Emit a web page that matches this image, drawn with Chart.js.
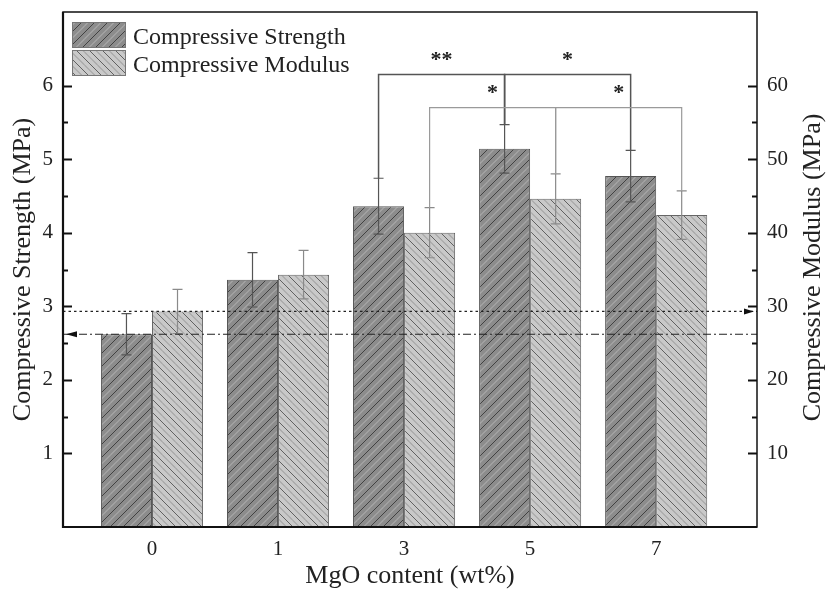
<!DOCTYPE html>
<html>
<head>
<meta charset="utf-8">
<script src="https://cdn.jsdelivr.net/npm/chart.js@4.4.1/dist/chart.umd.min.js"></script>
<style>
  html, body { margin: 0; padding: 0; background: #fff; }
</style>
</head>
<body>
<canvas id="barChart" width="826" height="590"></canvas>
<script>
// data
var categories = ["0", "1", "3", "5", "7"];
var strength = [2.62, 3.36, 4.36, 5.14, 4.77];
var strengthErr = [0.28, 0.37, 0.38, 0.33, 0.35];
var modulus = [29.3, 34.3, 40.0, 44.6, 42.4];
var modulusErr = [3.0, 3.3, 3.4, 3.4, 3.3];
var strengthTicks = [1, 2, 3, 4, 5, 6];
var strengthMinor = [1.5, 2.5, 3.5, 4.5, 5.5];
var modulusTicks = [10, 20, 30, 40, 50, 60];
var modulusMinor = [15, 25, 35, 45, 55];
// significance brackets: [from index, to index, mark]
var strengthSig = [[2, 3, "**"], [3, 4, "*"]];
var modulusSig = [[2, 3, "*"], [3, 4, "*"]];
var strengthSigLevel = 6.15;
var modulusSigLevel = 57;

var serif = "'Liberation Serif', 'DejaVu Serif', serif";
var textColor = "#222";
var rightTitle = "Compressive Modulus (MPa)";

// hatched fills
function hatch(base, dark, light, dir) {
    var s = 13;
    var c = document.createElement("canvas");
    c.width = s; c.height = s;
    var g = c.getContext("2d");
    g.fillStyle = base;
    g.fillRect(0, 0, s, s);
    function diag(off, col, w) {
        g.strokeStyle = col;
        g.lineWidth = w;
        g.beginPath();
        for (var k = -2; k <= 2; k++) {
            var x0 = k * s + off;
            if (dir > 0) { g.moveTo(x0, s); g.lineTo(x0 + s, 0); }
            else { g.moveTo(x0, 0); g.lineTo(x0 + s, s); }
        }
        g.stroke();
    }
    diag(s / 2, light, 1.2);
    diag(0, dark, 0.9);
    return g.createPattern(c, "repeat");
}
var darkFill = hatch("#8c8c8c", "#3a3a3a", "#a8a8a8", 1);
var lightFill = hatch("#c9c9c9", "#555555", "#a6a6a6", -1);

function noPad(s) {
    s.paddingTop = 0;
    s.paddingBottom = 0;
}

var extras = {
    id: "extras",
    afterDatasetsDraw: function (chart) {
        var ctx = chart.ctx;
        var area = chart.chartArea;
        var ys = chart.scales.y, ym = chart.scales.y2;
        var m0 = chart.getDatasetMeta(0), m1 = chart.getDatasetMeta(1);
        ctx.save();

        // error bars
        function errBars(meta, vals, errs, scale, col) {
            ctx.strokeStyle = col;
            ctx.lineWidth = 1.2;
            meta.data.forEach(function (bar, i) {
                var t = scale.getPixelForValue(vals[i] + errs[i]);
                var b = scale.getPixelForValue(vals[i] - errs[i]);
                ctx.beginPath();
                ctx.moveTo(bar.x, t); ctx.lineTo(bar.x, b);
                ctx.moveTo(bar.x - 5, t); ctx.lineTo(bar.x + 5, t);
                ctx.moveTo(bar.x - 5, b); ctx.lineTo(bar.x + 5, b);
                ctx.stroke();
            });
        }
        errBars(m0, strength, strengthErr, ys, "#555");
        errBars(m1, modulus, modulusErr, ym, "#8a8a8a");

        // control reference lines
        var yDot = ym.getPixelForValue(modulus[0]);
        var yDash = ys.getPixelForValue(strength[0]);
        ctx.strokeStyle = "#222";
        ctx.lineWidth = 1.2;
        ctx.setLineDash([2.5, 3]);
        ctx.beginPath(); ctx.moveTo(area.left, yDot); ctx.lineTo(area.right, yDot); ctx.stroke();
        ctx.setLineDash([8, 3, 2, 3]);
        ctx.beginPath(); ctx.moveTo(area.left, yDash); ctx.lineTo(area.right, yDash); ctx.stroke();
        ctx.setLineDash([]);
        ctx.fillStyle = "#111";
        ctx.beginPath();
        ctx.moveTo(area.left + 3, yDash); ctx.lineTo(area.left + 14, yDash - 3); ctx.lineTo(area.left + 14, yDash + 3);
        ctx.closePath(); ctx.fill();
        ctx.beginPath();
        ctx.moveTo(area.right - 3, yDot); ctx.lineTo(area.right - 13, yDot - 3); ctx.lineTo(area.right - 13, yDot + 3);
        ctx.closePath(); ctx.fill();

        // significance brackets
        function brackets(meta, vals, errs, scale, sig, level, col, w) {
            var yb = scale.getPixelForValue(level);
            ctx.strokeStyle = col;
            ctx.lineWidth = w;
            sig.forEach(function (p) {
                var a = meta.data[p[0]], b = meta.data[p[1]];
                ctx.beginPath();
                ctx.moveTo(a.x, scale.getPixelForValue(vals[p[0]] + errs[p[0]]));
                ctx.lineTo(a.x, yb);
                ctx.lineTo(b.x, yb);
                ctx.lineTo(b.x, scale.getPixelForValue(vals[p[1]] + errs[p[1]]));
                ctx.stroke();
                ctx.fillStyle = textColor;
                ctx.font = "bold 22px " + serif;
                ctx.textAlign = "center";
                ctx.textBaseline = "alphabetic";
                ctx.fillText(p[2], (a.x + b.x) / 2, yb - 20 + 11);
            });
        }
        brackets(m0, strength, strengthErr, ys, strengthSig, strengthSigLevel, "#555", 1.5);
        brackets(m1, modulus, modulusErr, ym, modulusSig, modulusSigLevel, "#9a9a9a", 1.2);

        // inward ticks
        ctx.strokeStyle = "#111";
        ctx.lineWidth = 2;
        function ticks(scale, list, len, x0, dir) {
            list.forEach(function (v) {
                var y = Math.round(scale.getPixelForValue(v)) + 0.5;
                ctx.beginPath(); ctx.moveTo(x0, y); ctx.lineTo(x0 + dir * len, y); ctx.stroke();
            });
        }
        ticks(ys, strengthTicks, 9, area.left, 1);
        ticks(ys, strengthMinor, 5, area.left, 1);
        ticks(ym, modulusTicks, 9, area.right, -1);
        ticks(ym, modulusMinor, 5, area.right, -1);

        // frame
        ctx.strokeStyle = "#111";
        ctx.lineWidth = 1.5;
        ctx.strokeRect(area.left, area.top, area.right - area.left, area.bottom - area.top);
        ctx.lineWidth = 2.2;
        ctx.beginPath();
        ctx.moveTo(area.left, area.top); ctx.lineTo(area.left, area.bottom); ctx.lineTo(area.right, area.bottom);
        ctx.stroke();

        // legend
        var fills = [darkFill, lightFill];
        ctx.font = "24px " + serif;
        ctx.textAlign = "left";
        ctx.textBaseline = "alphabetic";
        chart.data.datasets.forEach(function (ds, i) {
            var bx = area.left + 9, by = area.top + 10 + i * 28;
            ctx.fillStyle = fills[i];
            ctx.fillRect(bx, by, 54, 26);
            ctx.strokeStyle = "#777";
            ctx.lineWidth = 1;
            ctx.strokeRect(bx + 0.5, by + 0.5, 53, 25);
            ctx.fillStyle = textColor;
            ctx.fillText(ds.label, bx + 61, by + 21.5);
        });

        // right axis title reads bottom-to-top like the left one
        ctx.translate(813, (area.top + area.bottom) / 2 - 2);
        ctx.rotate(-Math.PI / 2);
        ctx.font = "26px " + serif;
        ctx.textAlign = "center";
        ctx.textBaseline = "middle";
        ctx.fillStyle = textColor;
        ctx.fillText(rightTitle, 0, 0);
        ctx.restore();
    }
};

new Chart("barChart", {
    type: "bar",
    data: {
        datasets: [{
            label: "Compressive Strength",
            data: strength.map(function (v, i) { return { x: i, y: v }; }),
            yAxisID: "y",
            backgroundColor: darkFill,
            borderColor: "#555",
            borderWidth: 1,
            categoryPercentage: 0.81,
            barPercentage: 1
        }, {
            label: "Compressive Modulus",
            data: modulus.map(function (v, i) { return { x: i, y: v }; }),
            yAxisID: "y2",
            backgroundColor: lightFill,
            borderColor: "#666",
            borderWidth: 1,
            categoryPercentage: 0.81,
            barPercentage: 1
        }]
    },
    options: {
        responsive: false,
        animation: false,
        layout: { padding: { top: 12 } },
        plugins: { legend: { display: false }, tooltip: { enabled: false } },
        scales: {
            x: {
                type: "linear",
                offset: false,
                min: -0.706,
                max: 4.8,
                afterBuildTicks: function (s) { s.ticks = categories.map(function (c, i) { return { value: i }; }); },
                afterFit: function (s) { s.height = 63; },
                ticks: {
                    callback: function (v) { return categories[v]; },
                    font: { family: serif, size: 21 },
                    color: textColor,
                    padding: 10,
                    maxRotation: 0,
                    autoSkip: false
                },
                grid: { display: false, drawTicks: false },
                border: { display: false },
                title: {
                    display: true,
                    text: "MgO content (wt%)",
                    font: { family: serif, size: 26, lineHeight: 1 },
                    color: textColor,
                    padding: { top: 0, bottom: 1 }
                }
            },
            y: {
                position: "left",
                min: 0,
                max: 7,
                afterBuildTicks: function (s) { s.ticks = strengthTicks.map(function (v) { return { value: v }; }); },
                afterFit: function (s) { s.width = 63; noPad(s); },
                ticks: { font: { family: serif, size: 21 }, color: textColor, padding: 10 },
                grid: { display: false, drawTicks: false },
                border: { display: false },
                title: {
                    display: true,
                    text: "Compressive Strength (MPa)",
                    font: { family: serif, size: 26, lineHeight: 1 },
                    color: textColor,
                    padding: { top: 10, bottom: 0 }
                }
            },
            y2: {
                position: "right",
                min: 0,
                max: 70,
                afterBuildTicks: function (s) { s.ticks = modulusTicks.map(function (v) { return { value: v }; }); },
                afterFit: function (s) { s.width = 69; noPad(s); },
                ticks: { font: { family: serif, size: 21 }, color: textColor, padding: 10 },
                grid: { display: false, drawTicks: false },
                border: { display: false },
                title: { display: false }
            }
        }
    },
    plugins: [extras]
});
</script>
</body>
</html>
